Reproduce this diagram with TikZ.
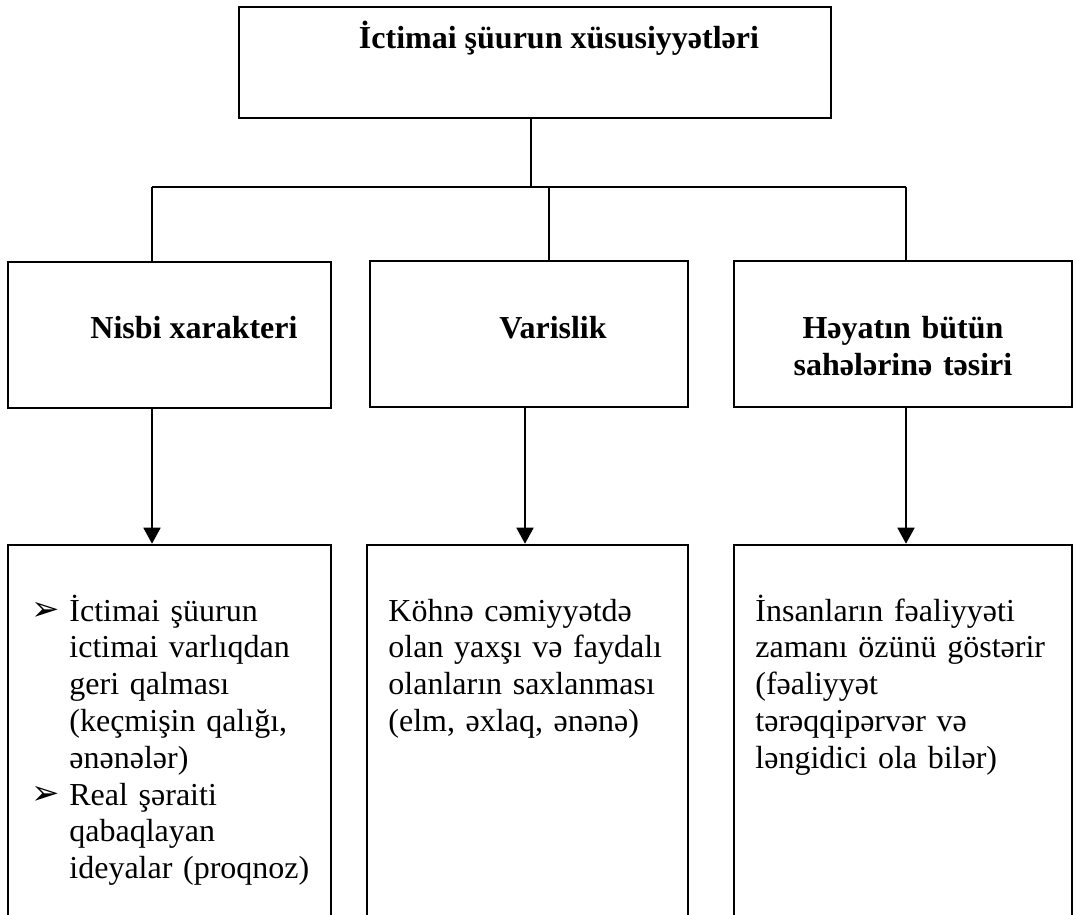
\documentclass[tikz,border=0pt]{standalone}
\usepackage{fontspec}
\setmainfont{Liberation Serif}
\newfontfamily\symfont{DejaVu Sans}
\usetikzlibrary{arrows.meta}

\newcommand{\pointer}{\makebox[19pt][l]{\raisebox{0.5pt}{\symfont\fontsize{17}{17}\selectfont ➢}}}
\newcommand{\indentline}{\hspace*{19pt}}

\begin{document}
\begin{tikzpicture}[x=0.5pt,y=-0.5pt,
	box/.style={draw,line width=1.3pt,inner sep=0pt},
	link/.style={line width=0.9pt},
	arr/.style={link,-{Triangle[width=8.5pt,length=8pt]}},
	head/.style={font=\fontsize{16}{18.5}\selectfont\bfseries,anchor=base,inner sep=0pt},
	body/.style={font=\fontsize{16}{18.4}\selectfont,align=left,text width=150pt,anchor=base west,inner sep=0pt}]
	\useasboundingbox (0,0) rectangle (1076,915);
	% boxes
	\node[box,minimum width=296pt,minimum height=55.5pt] (top) at (535,62.5) {};
	\node[box,minimum width=161.5pt,minimum height=73pt] (midA) at (169.5,335) {};
	\node[box,minimum width=159pt,minimum height=73pt] (midB) at (529,334) {};
	\node[box,minimum width=169pt,minimum height=73pt] (midC) at (903,334) {};
	\node[box,minimum width=161.5pt,minimum height=210pt] (lowA) at (169.5,755) {};
	\node[box,minimum width=160.5pt,minimum height=210pt] (lowB) at (527.5,755) {};
	\node[box,minimum width=169pt,minimum height=210pt] (lowC) at (903,755) {};
	% texts
	\node[head] (tTop) at (559,49) {İctimai şüurun xüsusiyyətləri};
	\node[head] (tA) at (194,338) {Nisbi xarakteri};
	\node[head] (tB) at (553,338) {Varislik};
	\node[head,align=center,text width=130pt] (tC) at (903,338) {Həyatın bütün\\ sahələrinə təsiri};
	\node[body] (lA) at (31,621) {\pointer İctimai şüurun\\ \indentline ictimai varlıqdan\\ \indentline geri qalması\\ \indentline (keçmişin qalığı,\\ \indentline ənənələr)\\ \pointer Real şəraiti\\ \indentline qabaqlayan\\ \indentline ideyalar (proqnoz)};
	\node[body] (lB) at (388,621) {Köhnə cəmiyyətdə\\ olan yaxşı və faydalı\\ olanların saxlanması\\ (elm, əxlaq, ənənə)};
	\node[body] (lC) at (755,621) {İnsanların fəaliyyəti\\ zamanı özünü göstərir\\ (fəaliyyət\\ tərəqqipərvər və\\ ləngidici ola bilər)};
	% connectors
	\coordinate (bus) at (531,187);
	\coordinate (dA) at (152,187);
	\coordinate (dB) at (549,187);
	\coordinate (dC) at (906,187);
	\coordinate (aB) at (525,187);
	\draw[link] (top.south -| bus) -- (bus);
	\draw[link] (dA) -- (dC);
	\draw[link] (dA) -- (dA |- midA.north);
	\draw[link] (dB) -- (dB |- midB.north);
	\draw[link] (dC) -- (dC |- midC.north);
	\draw[arr] (dA |- midA.south) -- (dA |- lowA.north);
	\draw[arr] (aB |- midB.south) -- (aB |- lowB.north);
	\draw[arr] (dC |- midC.south) -- (dC |- lowC.north);
\end{tikzpicture}
\end{document}
